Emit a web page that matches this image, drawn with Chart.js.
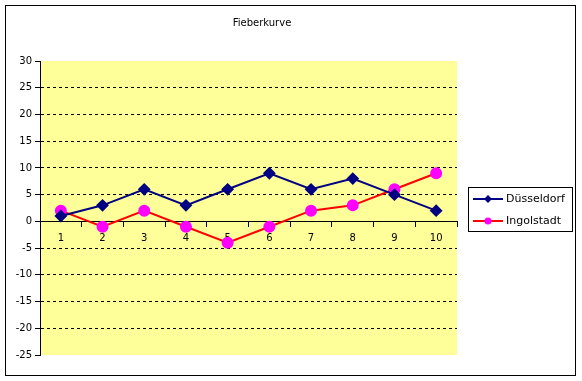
<!DOCTYPE html>
<html><head><meta charset="utf-8">
<script src="https://cdn.jsdelivr.net/npm/chart.js@4/dist/chart.umd.min.js"></script>
<style>html,body{margin:0;padding:0;background:#fff}#wrap{width:582px;height:381px}</style>
</head><body><div id="wrap"><canvas id="c" width="582" height="381"></canvas></div>
<script>
const titleText = 'Fieberkurve';
const categories = ['1','2','3','4','5','6','7','8','9','10'];
const duesseldorf = [1,3,6,3,6,9,6,8,5,2];
const ingolstadt = [2,-1,2,-1,-4,-1,2,3,6,9];
const seriesNames = ['Düsseldorf','Ingolstadt'];
const yMin = -25, yMax = 30, yStep = 5;

const FONT = '"DejaVu Sans", sans-serif';

const decor = {
  id: 'decor',
  beforeDraw(chart) {
    const {ctx, chartArea: a} = chart;
    ctx.save();
    ctx.fillStyle = '#fff';
    ctx.fillRect(0, 0, chart.width, chart.height);
    ctx.fillStyle = '#FFFF99';
    ctx.fillRect(a.left, a.top, a.right - a.left, a.bottom - a.top);
    ctx.restore();
  },
  afterDraw(chart) {
    const ctx = chart.ctx;
    ctx.save();
    ctx.strokeStyle = '#000';
    ctx.lineWidth = 1;
    ctx.strokeRect(5.5, 5.5, 570, 370);
    // title
    ctx.fillStyle = '#000';
    ctx.font = '10px ' + FONT;
    ctx.textAlign = 'center';
    ctx.textBaseline = 'middle';
    ctx.fillText(titleText, 262, 23);
    // legend
    ctx.strokeRect(468.5, 187.5, 104, 44);
    const ys = [199, 221];
    chart.data.datasets.forEach((ds, i) => {
      const y = ys[i];
      ctx.strokeStyle = ds.borderColor;
      ctx.lineWidth = 2;
      ctx.beginPath(); ctx.moveTo(473, y); ctx.lineTo(503, y); ctx.stroke();
      ctx.fillStyle = ds.pointBackgroundColor;
      ctx.beginPath();
      if (ds.pointStyle === 'rectRot') {
        ctx.moveTo(488, y - 4); ctx.lineTo(492, y); ctx.lineTo(488, y + 4); ctx.lineTo(484, y);
        ctx.closePath();
      } else {
        ctx.arc(488, y, 3.5, 0, Math.PI * 2);
      }
      ctx.fill();
      ctx.fillStyle = '#000';
      ctx.font = '11px ' + FONT;
      ctx.textAlign = 'left';
      ctx.textBaseline = 'middle';
      ctx.fillText(ds.label, 506, y);
    });
    ctx.restore();
  }
};

new Chart(document.getElementById('c'), {
  type: 'line',
  data: {
    labels: categories,
    datasets: [
      { label: seriesNames[0], data: duesseldorf, borderColor: '#000080', backgroundColor: '#000080',
        pointBackgroundColor: '#000080', pointBorderColor: '#000080', pointStyle: 'rectRot',
        pointRadius: 5, borderWidth: 2, tension: 0 },
      { label: seriesNames[1], data: ingolstadt, borderColor: '#FF0000', backgroundColor: '#FF00FF',
        pointBackgroundColor: '#FF00FF', pointBorderColor: '#FF00FF', pointStyle: 'circle',
        pointRadius: 5, borderWidth: 2, tension: 0 }
    ]
  },
  options: {
    responsive: false,
    animation: false,
    devicePixelRatio: 1,
    layout: { padding: { left: 10, top: 61, right: 125, bottom: 26 } },
    plugins: { legend: { display: false }, title: { display: false }, tooltip: { enabled: false } },
    scales: {
      x: {
        type: 'category',
        offset: true,
        position: { y: 0 },
        grid: { display: true, offset: true, drawOnChartArea: false, drawTicks: true, tickLength: 5, tickColor: '#000' },
        border: { display: true, color: '#000', width: 1 },
        ticks: { color: '#000', font: { family: FONT, size: 10 }, padding: 6, maxRotation: 0, autoSkip: false }
      },
      y: {
        min: yMin, max: yMax,
        afterFit(s) { s.width = 30; },
        grid: {
          color: (c) => (c.tick && (c.tick.value === yMin || c.tick.value === yMax || c.tick.value === 0)) ? 'rgba(0,0,0,0)' : '#000',
          tickColor: '#000', tickLength: 5, drawTicks: true, lineWidth: 1
        },
        border: { display: true, color: '#000', width: 1, dash: [3, 3] },
        ticks: { stepSize: yStep, color: '#000', font: { family: FONT, size: 10 }, padding: 3 }
      }
    }
  },
  plugins: [decor]
});
</script>
</body></html>
